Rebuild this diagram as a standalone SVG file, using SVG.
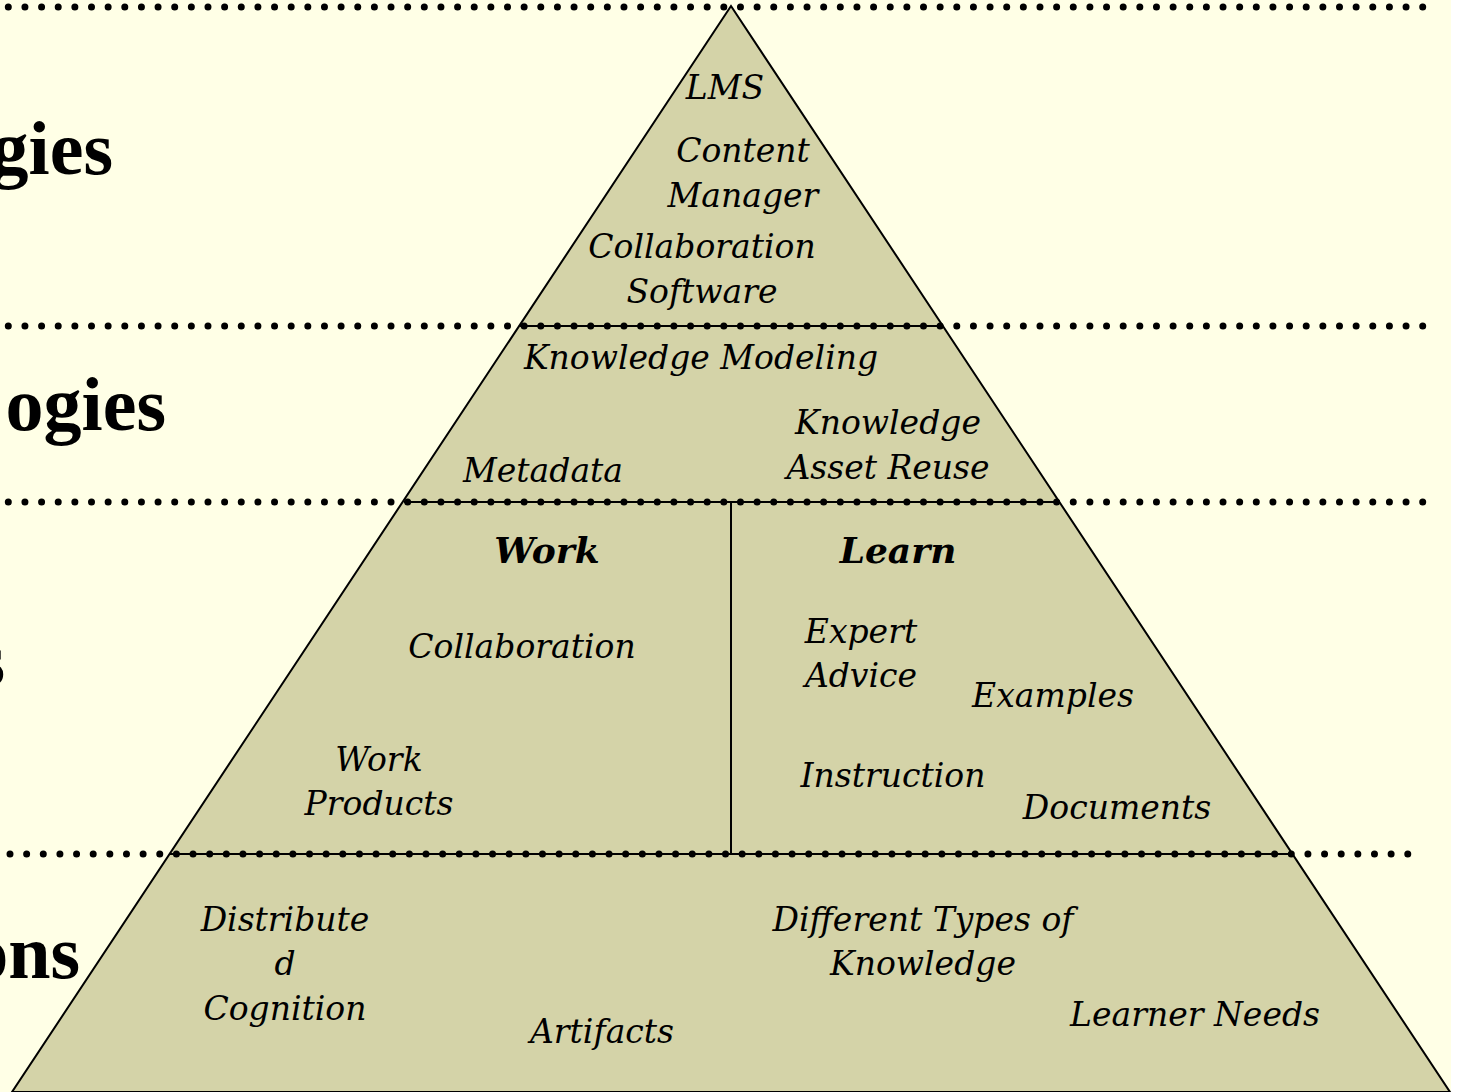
<svg xmlns="http://www.w3.org/2000/svg" width="1458" height="1092" viewBox="0 0 1458 1092">
<style>
.bg{fill:#FFFFE6}
.tri{fill:#D4D3A8;stroke:#000;stroke-width:2}
.dot{stroke:#000;stroke-width:7;stroke-linecap:round;stroke-dasharray:0 16.64;fill:none}
.sol{stroke:#000;stroke-width:2;fill:none}
.t{font-family:"DejaVu Serif",Georgia,serif;font-style:italic;font-size:33px;fill:#000;text-anchor:middle}
.tb{font-family:"DejaVu Serif",Georgia,serif;font-style:italic;font-weight:bold;font-size:36px;fill:#000;text-anchor:middle}
.side{font-family:"Liberation Serif","Times New Roman",serif;font-weight:bold;font-size:76px;fill:#000;text-anchor:end}
</style>
<rect x="0" y="0" width="1458" height="1092" fill="#FFFFFF"/>
<rect class="bg" x="0" y="0" width="1451" height="1092"/>
<g id="side-labels">
<text class="side" x="113" y="174">gies</text>
<text class="side" x="166" y="430">ogies</text>
<text class="side" x="5" y="685">s</text>
<text class="side" x="80" y="978">ons</text>
</g>
<g id="pyramid">
<polygon class="tri" points="731,6 12,1092 1450,1092"/>
</g>
<g id="connectors">
<line class="sol" x1="520" y1="326" x2="942" y2="326"/>
<line class="sol" x1="404" y1="502" x2="1058" y2="502"/>
<line class="sol" x1="170" y1="854" x2="1292" y2="854"/>
<line class="sol" x1="731" y1="502" x2="731" y2="854"/>
<line class="dot" x1="8.3" y1="7" x2="1424" y2="7"/>
<line class="dot" x1="8.3" y1="326" x2="1424" y2="326"/>
<line class="dot" x1="8.3" y1="502" x2="1424" y2="502"/>
<line class="dot" x1="10" y1="854" x2="1408" y2="854"/>
</g>
<g id="tier-tools">
<text class="t" x="725" y="99">LMS</text>
<text class="t" x="743" y="162">Content</text>
<text class="t" x="743" y="207">Manager</text>
<text class="t" x="702" y="258">Collaboration</text>
<text class="t" x="702" y="303">Software</text>
</g>
<g id="tier-methods">
<text class="t" x="701" y="369">Knowledge Modeling</text>
<text class="t" x="888" y="434">Knowledge</text>
<text class="t" x="888" y="479">Asset Reuse</text>
<text class="t" x="543" y="482">Metadata</text>
</g>
<g id="tier-work">
<text class="tb" x="547" y="563">Work</text>
<text class="t" x="522" y="658">Collaboration</text>
<text class="t" x="379" y="771">Work</text>
<text class="t" x="379" y="815">Products</text>
</g>
<g id="tier-learn">
<text class="tb" x="898" y="563">Learn</text>
<text class="t" x="861" y="643">Expert</text>
<text class="t" x="861" y="687">Advice</text>
<text class="t" x="1053" y="707">Examples</text>
<text class="t" x="893" y="787">Instruction</text>
<text class="t" x="1117" y="819">Documents</text>
</g>
<g id="tier-foundations">
<text class="t" x="285" y="931">Distribute</text>
<text class="t" x="285" y="975">d</text>
<text class="t" x="285" y="1020">Cognition</text>
<text class="t" x="602" y="1043">Artifacts</text>
<text class="t" x="923" y="931">Different Types of</text>
<text class="t" x="923" y="975">Knowledge</text>
<text class="t" x="1195" y="1026">Learner Needs</text>
</g>
</svg>
